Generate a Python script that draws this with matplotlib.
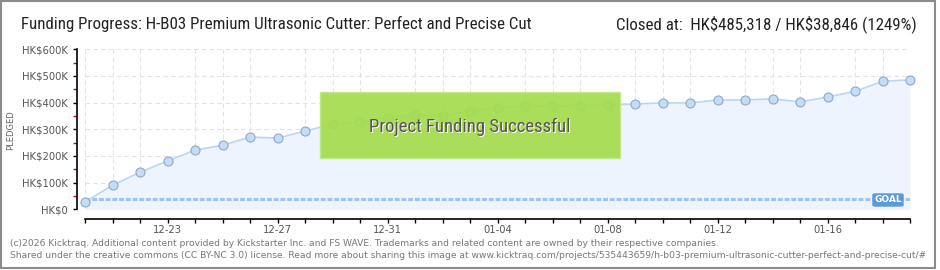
import matplotlib
matplotlib.use('Agg')
import matplotlib.pyplot as plt
import matplotlib.dates as mdates
from matplotlib import font_manager
from matplotlib.patches import Rectangle, FancyBboxPatch
import pandas as pd

# daily pledged totals (HK$)
dates = pd.date_range('2025-12-20', '2026-01-19', freq='D')
pledged = [28000, 90000, 139000, 181000, 222000, 240000, 271000, 267000, 293000,
           320000, 328000, 344000, 354000, 350000, 370000, 380000, 389000, 387000,
           389000, 391000, 395000, 399000, 399000, 410000, 410000, 414000, 403000,
           421000, 442000, 480000, 485318]
goal = 38846
y_ticks = [0, 100000, 200000, 300000, 400000, 500000, 600000]
y_labels = ['HK$0', 'HK$100K', 'HK$200K', 'HK$300K', 'HK$400K', 'HK$500K', 'HK$600K']
label_dates = pd.to_datetime(['2025-12-23', '2025-12-27', '2025-12-31', '2026-01-04',
                              '2026-01-08', '2026-01-12', '2026-01-16'])

title = 'Funding Progress: H-B03 Premium Ultrasonic Cutter: Perfect and Precise Cut'
closed = r'Closed at:  HK\$485,318 / HK\$38,846 (1249%)'
footer1 = ('(c)2026 Kicktraq. Additional content provided by Kickstarter Inc. and FS WAVE. '
           'Trademarks and related content are owned by their respective companies.')
footer2 = ('Shared under the creative commons (CC BY-NC 3.0) license. Read more about sharing this image at '
           'www.kicktraq.com/projects/535443659/h-b03-premium-ultrasonic-cutter-perfect-and-precise-cut/#')

available = {f.name for f in font_manager.fontManager.ttflist}
narrow = next((f for f in ['Liberation Sans Narrow', 'Roboto Condensed', 'Open Sans Condensed', 'DejaVu Sans']
               if f in available), 'DejaVu Sans')

W, H = 940, 270
PT = 72 / 100  # points per pixel at dpi 100
fig = plt.figure(figsize=(W / 100, H / 100), dpi=100)
fig.patch.set_facecolor('white')

ax = fig.add_axes([85 / W, 1 - 209.3 / H, 825 / W, 160 / H])
ax.set_facecolor('white')
ax.set_xlim(dates[0], dates[-1])
ax.set_ylim(0, 600000)

ax.fill_between(dates, pledged, color='#edf4fd', zorder=1, lw=0)
ax.axhline(goal, color='#9fc4ee', lw=2.2, ls=(0, (1.6, 0.6)), zorder=2)
ax.plot(dates, pledged, color='#bcd6f2', lw=1.2, marker='o', ms=6.5,
        mfc='#c3ddf8', mec='#90a9c8', mew=0.8, zorder=3, clip_on=False)

ax.grid(True, which='major', axis='y', color='#e2e2e2', ls=(0, (4, 3)), lw=0.8, zorder=0)
ax.xaxis.set_minor_locator(mdates.DayLocator())
ax.grid(True, which='minor', axis='x', color='#e2e2e2', ls=(0, (4, 3)), lw=0.8, zorder=0)
ax.set_axisbelow(True)

for s in ['top', 'right']:
    ax.spines[s].set_visible(False)
ax.spines['left'].set_position(('outward', 8 * PT))
ax.spines['bottom'].set_position(('outward', 10 * PT))
ax.spines['left'].set_linewidth(1.2)
ax.spines['bottom'].set_linewidth(1.2)

ax.set_yticks(y_ticks)
ax.set_yticklabels(y_labels)
ax.set_yticks([50000, 150000, 250000, 350000, 450000, 550000], minor=True)
ax.tick_params(axis='y', which='major', length=4 * PT, width=1, color='black', pad=5 * PT,
               labelsize=7.2, labelcolor='#555555')
ax.tick_params(axis='y', which='minor', length=4 * PT, width=1, color='#e00000')

ax.set_xticks(label_dates)
ax.xaxis.set_major_formatter(mdates.DateFormatter('%m-%d'))
ax.tick_params(axis='x', which='both', length=4 * PT, width=1, color='black', direction='out')
ax.tick_params(axis='x', which='major', pad=1.5, labelsize=7.2, labelcolor='#555555')

# success banner
fig.patches.append(Rectangle((320 / W, 1 - 158 / H), 300 / W, 66 / H, transform=fig.transFigure,
                             facecolor='#a5dc4e', edgecolor='#c2e88a', lw=1, alpha=0.93, zorder=5))
fig.text(470 / W + 1 / W, 1 - 127 / H - 1 / H, 'Project Funding Successful', ha='center', va='center',
         fontsize=13.5, color='white', family=narrow, zorder=6)
fig.text(470 / W, 1 - 127 / H, 'Project Funding Successful', ha='center', va='center',
         fontsize=13.5, color='#555555', family=narrow, zorder=7)

# goal tag
fig.patches.append(FancyBboxPatch((873 / W, 1 - 206 / H), 30 / W, 12 / H, transform=fig.transFigure,
                                  boxstyle='round,pad=0,rounding_size=0.003',
                                  facecolor='#5b9bd8', edgecolor='#5b9bd8', zorder=5))
fig.text(888 / W, 1 - 200 / H, 'GOAL', ha='center', va='center', fontsize=6.5,
         color='white', fontweight='bold', zorder=6)

fig.text(11 / W, 1 - 130 / H, 'PLEDGED', rotation=90, ha='center', va='center',
         fontsize=6, color='#666666')

fig.text(21 / W, 1 - 24 / H, title, ha='left', va='center', fontsize=12.2,
         color='#222222', family=narrow)
fig.text(917 / W, 1 - 24 / H, closed, ha='right', va='center', fontsize=12.2,
         color='#222222', family=narrow)

fig.text(10 / W, 1 - 243 / H, footer1, ha='left', va='center', fontsize=6.6, color='#777777')
fig.text(10 / W, 1 - 255 / H, footer2, ha='left', va='center', fontsize=6.6, color='#777777')

fig.patches.append(Rectangle((1 / W, 1 - 268 / H), 934 / W, 267 / H, transform=fig.transFigure,
                             fill=False, edgecolor='#8c8c8c', lw=1.5, zorder=8))

fig.savefig('out.png', dpi=100)
